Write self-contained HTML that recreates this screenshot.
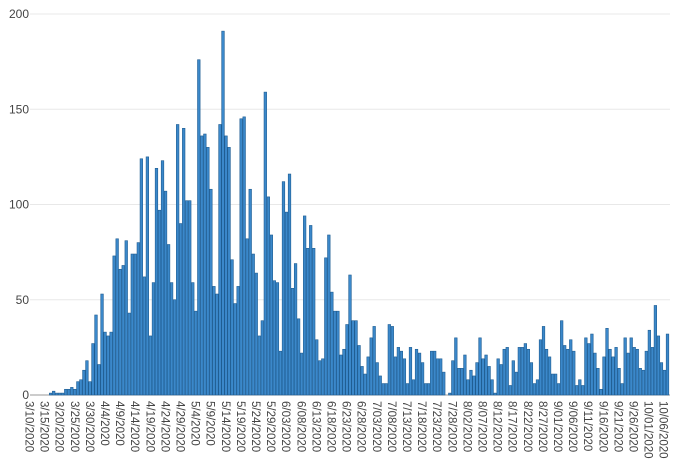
<!DOCTYPE html>
<html><head><meta charset="utf-8"><style>
html,body{margin:0;padding:0;background:#fff;}
svg{display:block;}
text{font-family:"Liberation Sans",sans-serif;fill:#444;}
</style></head><body>
<svg id="c" width="680" height="472" xmlns="http://www.w3.org/2000/svg"></svg>
<script>
var v=[0,0,0,0,0,0,1,2,1,1,1,3,3,4,3,7,8,13,18,7,27,42,16,53,33,31,33,73,82,66,68,81,43,74,74,80,124,62,125,31,59,119,97,123,107,79,59,50,142,90,140,102,102,59,44,176,136,137,130,108,57,53,142,191,136,130,
71,48,57,145,146,82,108,74,64,31,39,159,104,84,60,59,23,112,96,116,56,69,40,22,94,77,89,77,29,18,19,72,84,54,44,44,21,24,37,63,39,39,26,15,11,20,30,36,17,10,6,6,37,36,20,25,23,19,6,25,8,24,22,17,6,6,23,23,19,19,12,0,1,18,30,14,
14,21,8,13,10,17,30,19,21,15,8,1,19,16,24,25,5,18,12,25,25,27,24,17,6,8,29,36,24,20,11,11,6,39,26,24,29,23,5,8,5,30,27,32,22,14,3,20,35,24,20,25,14,6,30,22,30,25,24,14,13,23,34,25,47,31,17,13,32];
var s='',Z=395,k=1.905;
[0,50,100,150,200].forEach(function(t){var y=Z-t*k;
 s+='<line x1="30" x2="670" y1="'+y+'" y2="'+y+'" stroke="'+(t?'#e8e8e8':'#999')+'" stroke-width="1"/>';
 s+='<text x="29" y="'+(y+4)+'" font-size="12" text-anchor="end">'+t+'</text>';});
var N=v.length,x0=32.5,x1=667.5,dx=(x1-x0)/(N-1);
for(var i=0;i<N;i++){var h=v[i]*k;if(h<=0)continue;
 s+='<rect x="'+(x0+i*dx-1.3).toFixed(2)+'" y="'+(Z-h).toFixed(2)+'" width="2.6" height="'+h.toFixed(2)+'" fill="#3b88ca" stroke="#1f5d92" stroke-width="0.6"/>';}
var L=["3/10","3/15","3/20","3/25","3/30","4/4","4/9","4/14","4/19","4/24","4/29","5/4","5/9","5/14","5/19","5/24","5/29","6/03","6/08","6/13","6/18","6/23","6/28","7/03","7/08","7/13","7/18","7/23","7/28","8/02","8/07","8/12","8/17","8/22","8/27","9/01","9/06","9/11","9/16","9/21","9/26","10/01","10/06"];
L.forEach(function(l,j){var x=29.5+j*5*3.02;
 s+='<text transform="translate('+(x-4)+',401) rotate(90)" font-size="11.5">'+l+'/2020</text>';});
document.getElementById('c').innerHTML=s;
</script>
</body></html>
